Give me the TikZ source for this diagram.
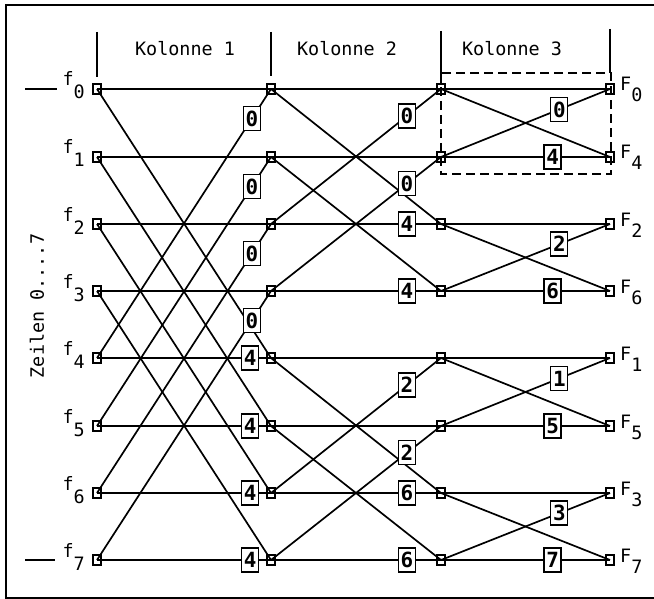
\documentclass[tikz,border=0pt]{standalone}
\usepackage{fontspec}
\newfontfamily\din{DejaVu Sans Mono}
\begin{document}
\begin{tikzpicture}[x=1bp,y=-1bp,
  conn/.style={line width=1.7pt},
  hline/.style={line width=1.4pt},
  tick/.style={line width=1.2pt},
  pt/.style={draw, line width=1.1pt, minimum width=8bp, minimum height=10bp, inner sep=0pt},
  wbox/.style={draw, fill=white, line width=1.3pt, inner sep=0pt,
    minimum width=17bp, minimum height=24bp, font=\din\bfseries\fontsize{21}{21}\selectfont},
  lab/.style={font=\din\fontsize{18.5}{18.5}\selectfont, inner sep=0pt}]
\useasboundingbox (0,0) rectangle (654,599);
% outer frame
\draw[line width=1.4pt] (654,5) -- (6,5) -- (6,598) -- (654,598);

% column headings
\draw[tick] (97,32) -- (97,77);
\draw[tick] (271,32) -- (271,76);
\draw[tick] (441,31) -- (441,84);
\draw[tick] (610,29) -- (610,73);
\node[lab] (k1) at (185,49) {Kolonne 1};
\node[lab] (k2) at (347,49) {Kolonne 2};
\node[lab] (k3) at (512,49) {Kolonne 3};

% grid points: column c, row r
\foreach \c/\x in {0/97,1/271,2/441,3/610}
  \foreach \r/\y in {0/89,1/157,2/224,3/291,4/358,5/426,6/493,7/560}
    \node[pt] (n\c\r) at (\x,\y) {};

% first stage (distance 4)
\foreach \a/\b in {0/4,1/5,2/6,3/7}{
  \draw[hline] (n0\a.center) -- (n1\a.center);
  \draw[conn] (n0\a.center) -- (n1\b.center);
  \draw[conn] (n0\b.center) -- node[wbox,pos=.89] {0} (n1\a.center);
  \draw[hline] (n0\b.center) -- node[wbox,pos=.88] {4} (n1\b.center);
}
% second stage (distance 2)
\foreach \a/\b/\wa/\wb in {0/2/0/4,1/3/0/4,4/6/2/6,5/7/2/6}{
  \draw[hline] (n1\a.center) -- (n2\a.center);
  \draw[conn] (n1\a.center) -- (n2\b.center);
  \draw[conn] (n1\b.center) -- node[wbox,pos=.8] {\wa} (n2\a.center);
  \draw[hline] (n1\b.center) -- node[wbox,pos=.8] {\wb} (n2\b.center);
}
% third stage (distance 1)
\foreach \a/\b/\wa/\wb in {0/1/0/4,2/3/2/6,4/5/1/5,6/7/3/7}{
  \draw[hline] (n2\a.center) -- (n3\a.center);
  \draw[conn] (n2\a.center) -- (n3\b.center);
  \draw[conn] (n2\b.center) -- node[wbox,pos=.7] {\wa} (n3\a.center);
  \draw[hline] (n2\b.center) -- node[wbox,pos=.66] {\wb} (n3\b.center);
}

% dashed butterfly frame
\draw[line width=1.3pt, dash pattern=on 9bp off 5bp] (441,73) rectangle (611,174);

% input labels
\foreach \r/\y in {0/89,1/157,2/224,3/291,4/358,5/426,6/493,7/560}
  \node[lab, anchor=base east] (fin\r) at (85,\y-3) {f\raisebox{-13bp}{\r}};
\draw[hline] (25,89) -- (57,89);
\draw[hline] (25,560) -- (55,560);

% output labels
\foreach \r/\k/\y in {0/0/89,1/4/157,2/2/224,3/6/291,4/1/358,5/5/426,6/3/493,7/7/560}
  \node[lab, anchor=base west] (fout\r) at (620,\y+2) {F\raisebox{-11bp}{\k}};

\node[lab, rotate=90] (rows) at (37,306) {Zeilen 0....7};
\end{tikzpicture}
\end{document}
